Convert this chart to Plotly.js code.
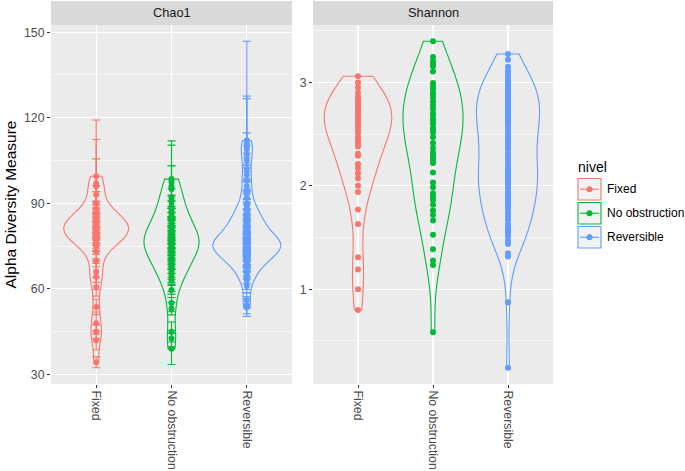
<!DOCTYPE html>
<html><head><meta charset="utf-8">
<script src="https://cdn.plot.ly/plotly-3.0.1.min.js"></script>
<style>html,body{margin:0;padding:0;background:#fff}#chart{width:685px;height:471px}</style>
</head><body><div id="chart"></div>
<script>
const categories = ['Fixed', 'No obstruction', 'Reversible'];
const facets = ['Chao1', 'Shannon'];
const legendTitle = 'nivel';
const yTitle = 'Alpha Diversity Measure';
const colors = ['#F8766D', '#00BA38', '#619CFF'];

const chao1Fixed = [99.5, 97, 96, 93, 90, 88, 87, 86, 85, 84.5, 84, 83.5, 83, 82.5, 82, 81.5, 81, 80.5, 80, 79.5, 79, 78.5, 78, 77.5, 77, 76, 75, 73, 70, 66, 64.3, 60.7, 53.7, 48, 45, 42, 34.3];
const chao1FixedSE = [19.7, 15.4, 9.6, 3.2, 4.1, 2.5, 3.8, 2.2, 4.5, 3.1, 2.7, 5.2, 3.4, 2.1, 4.8, 3.6, 2.9, 3.3, 2.4, 4.2, 3.0, 2.6, 3.9, 2.3, 3.5, 2.8, 4.4, 3.1, 2.2, 3.7, 4.6, 3.2, 2.7, 3.9, 2.4, 3.3, 1.9];
const chao1NoObs = [98.5, 97.5, 96, 95, 92, 90.5, 89, 88, 87, 86, 85, 84, 83, 82, 81, 80, 79.5, 79, 78.5, 78, 77.5, 77, 76.5, 76, 75.5, 75, 74.5, 74, 73.5, 73, 72, 71, 70, 69, 68, 67, 66, 65, 64, 63, 59.6, 55.1, 53.1, 44.9, 42.6, 39.0];
const chao1NoObsSE = [13.4, 12.9, 7.2, 8.2, 3.1, 2.4, 3.6, 2.8, 4.1, 2.2, 3.3, 2.7, 3.9, 2.5, 3.0, 4.4, 2.6, 3.2, 2.1, 3.7, 2.9, 3.4, 2.3, 4.0, 2.6, 3.1, 2.8, 3.5, 2.4, 3.8, 2.2, 3.3, 2.9, 3.6, 2.5, 3.0, 2.7, 3.4, 2.8, 3.9, 2.6, 3.1, 2.2, 3.5, 2.9, 5.5];
const chao1Rev = [112, 111, 110, 109, 107, 105, 102, 100, 98, 96, 94, 92, 90, 89, 88,
  87, 86.5, 86, 85, 84.5, 84, 83.5, 83, 82.5, 82,
  81.5, 81, 80.5, 80, 79.5, 79, 78.5, 78, 77.8, 77.5,
  77.2, 77, 76.8, 76.6, 76.5, 76.2, 76, 75.8, 75.6, 75.5,
  75.2, 75, 74.8, 74.6, 74.5, 74.2, 74, 73.8, 73.5, 73.2,
  73, 72.7, 72.4, 72, 71.6, 71.2, 70.8, 70.4, 70, 69.5,
  69, 68.5, 68, 67, 66, 65, 64, 63.1, 61, 56, 54.3, 53.5];
const chao1RevSE = [34.8, 16.6, 16.7, 5.7, 3.2, 2.6, 3.9, 2.4, 3.1, 2.8, 3.5, 2.2, 4.0, 2.7, 3.3, 2.5, 3.8, 2.1, 3.0, 2.9, 3.6, 2.3, 3.2, 2.8, 4.1, 2.4, 3.4, 2.6, 3.7, 2.2, 3.1, 2.9, 2.5, 3.3, 2.7, 3.9, 2.3, 3.0, 2.6, 3.5, 2.1, 3.2, 2.8, 2.4, 3.6, 2.7, 3.1, 2.2, 3.4, 2.9, 2.5, 3.8, 2.3, 3.0, 2.6, 3.3, 2.8, 2.4, 3.5, 2.1, 3.2, 2.7, 2.9, 3.6, 2.3, 3.1, 2.6, 3.4, 2.8, 2.5, 3.0, 2.2, 3.3, 2.4, 2.7, 3.0, 3.1];

const shannonFixed = [3.06, 3.00, 2.95, 2.90, 2.86, 2.84, 2.81, 2.79, 2.77, 2.75, 2.73, 2.71, 2.68, 2.65, 2.62, 2.60, 2.57, 2.54, 2.51, 2.47, 2.44, 2.41, 2.38, 2.31, 2.29, 2.21, 2.17, 2.12, 2.07, 2.00, 1.94, 1.77, 1.63, 1.31, 1.19, 1.00, 0.80];
const shannonNoObs = [3.397, 3.246, 3.203, 3.18, 3.155, 3.106, 2.994, 2.96, 2.936, 2.897, 2.88, 2.855, 2.816, 2.78, 2.742, 2.70, 2.687, 2.646, 2.63, 2.600, 2.559, 2.54, 2.516, 2.47, 2.413, 2.365, 2.322, 2.30, 2.278, 2.25, 2.220, 2.129, 2.032, 1.987, 1.929, 1.90, 1.864, 1.816, 1.761, 1.719, 1.664, 1.526, 1.387, 1.277, 1.235, 0.584];
const shannonRev = [3.275, 3.22, 3.15, 3.116, 3.08, 3.052, 3.02, 3.00, 2.98, 2.96, 2.94, 2.92, 2.90, 2.88, 2.86, 2.84, 2.82, 2.80, 2.78, 2.76, 2.74, 2.72, 2.70, 2.68, 2.66, 2.64, 2.62, 2.60, 2.58, 2.55, 2.52, 2.50, 2.47, 2.445, 2.42, 2.397, 2.37, 2.349, 2.31, 2.284, 2.252, 2.22, 2.19, 2.17, 2.15, 2.13, 2.11, 2.09, 2.07, 2.05, 2.03, 2.01, 2.00, 1.98, 1.945, 1.92, 1.896, 1.87, 1.848, 1.82, 1.80, 1.77, 1.736, 1.70, 1.671, 1.63, 1.60, 1.574, 1.558, 1.54, 1.509, 1.47, 1.438, 1.348, 1.316, 0.874, 0.242];

const chao1 = [chao1Fixed, chao1NoObs, chao1Rev];
const chao1SE = [chao1FixedSE, chao1NoObsSE, chao1RevSE];
const shannon = [shannonFixed, shannonNoObs, shannonRev];

const W = 685, H = 471;
const px = x => x / W, py = y => 1 - y / H;
const FONT = 'Liberation Sans, Arial, Helvetica, sans-serif';

function quantile(s, p) { const h = (s.length - 1) * p, lo = Math.floor(h), hi = Math.ceil(h); return s[lo] + (s[hi] - s[lo]) * (h - lo); }
function bwNrd0(v) {
  const n = v.length, m = v.reduce((a, b) => a + b, 0) / n;
  const sd = Math.sqrt(v.reduce((a, b) => a + (b - m) * (b - m), 0) / (n - 1));
  const s = v.slice().sort((a, b) => a - b);
  const iqr = quantile(s, 0.75) - quantile(s, 0.25);
  return 0.9 * Math.min(sd, iqr / 1.34) * Math.pow(n, -0.2);
}
function expand(lo, hi) { const d = (hi - lo) * 0.05; return [lo - d, hi + d]; }

const chaoWidths = [0.86, 0.73, 0.9];
const shanWidths = [0.9, 0.8, 0.84];
const traces = [];
categories.forEach((cat, i) => {
  const vals = chao1[i];
  traces.push({type: 'violin', x: vals.map(() => cat), y: vals, xaxis: 'x', yaxis: 'y',
    line: {color: colors[i], width: 1.1}, fillcolor: 'rgba(0,0,0,0)', points: false, spanmode: 'hard',
    bandwidth: bwNrd0(vals), width: chaoWidths[i], scalemode: 'width', box: {visible: false}, meanline: {visible: false},
    showlegend: false, hoverinfo: 'skip'});
  traces.push({type: 'scatter', mode: 'markers', x: vals.map(() => cat), y: vals, xaxis: 'x', yaxis: 'y',
    marker: {color: colors[i], size: 6}, error_y: {type: 'data', array: chao1SE[i], visible: true, color: colors[i], thickness: 1.1, width: 4},
    showlegend: false, hoverinfo: 'skip'});
  const sv = shannon[i];
  traces.push({type: 'violin', x: sv.map(() => cat), y: sv, xaxis: 'x2', yaxis: 'y2',
    line: {color: colors[i], width: 1.1}, fillcolor: 'rgba(0,0,0,0)', points: false, spanmode: 'hard',
    bandwidth: bwNrd0(sv), width: shanWidths[i], scalemode: 'width', box: {visible: false}, meanline: {visible: false},
    showlegend: false, hoverinfo: 'skip'});
  traces.push({type: 'scatter', mode: 'markers', x: sv.map(() => cat), y: sv, xaxis: 'x2', yaxis: 'y2',
    marker: {color: colors[i], size: 6}, showlegend: false, hoverinfo: 'skip'});
});

let cLo = Infinity, cHi = -Infinity;
chao1.forEach((v, i) => v.forEach((y, j) => { cLo = Math.min(cLo, y - chao1SE[i][j]); cHi = Math.max(cHi, y + chao1SE[i][j]); }));
const allS = shannon.flat();
const chaoRange = expand(cLo, cHi);
const shanRange = expand(Math.min(...allS), Math.max(...allS));

const tickfont = {family: FONT, size: 12.3, color: '#4D4D4D'};
const xCommon = {type: 'category', categoryorder: 'array', categoryarray: categories, range: [-0.6, 2.6],
  tickangle: 90, ticks: 'outside', ticklen: 3, tickwidth: 1, tickcolor: '#333333', showgrid: true, gridcolor: '#FFFFFF', gridwidth: 1.1,
  zeroline: false, showline: false, tickfont: tickfont, automargin: false, fixedrange: true};
const yCommon = {ticks: 'outside', ticklen: 3, tickwidth: 1, tickcolor: '#333333', showgrid: true, gridcolor: '#FFFFFF', gridwidth: 1.1,
  zeroline: false, showline: false, tickfont: tickfont, automargin: false, fixedrange: true, tickmode: 'linear',
  domain: [py(384), py(25)]};

const panels = [[51, 292], [313, 553]];
const shapes = [], annotations = [];
facets.forEach((f, k) => {
  shapes.push({type: 'rect', xref: 'paper', yref: 'paper', x0: px(panels[k][0]), x1: px(panels[k][1]), y0: py(25), y1: py(1), fillcolor: '#D9D9D9', line: {width: 0}, layer: 'below'});
  annotations.push({xref: 'paper', yref: 'paper', x: px((panels[k][0] + panels[k][1]) / 2), y: py(13), text: f, showarrow: false,
    xanchor: 'center', yanchor: 'middle', font: {family: FONT, size: 12.8, color: '#1A1A1A'}});
});
annotations.push({xref: 'paper', yref: 'paper', x: px(10), y: py(204.5), text: yTitle, showarrow: false, textangle: -90,
  xanchor: 'center', yanchor: 'middle', font: {family: FONT, size: 15.5, color: '#000000'}});
annotations.push({xref: 'paper', yref: 'paper', x: px(576), y: py(167), text: legendTitle, showarrow: false,
  xanchor: 'left', yanchor: 'middle', font: {family: FONT, size: 14, color: '#000000'}});
categories.forEach((cat, i) => {
  const top = 178.5 + i * 24, bot = top + 21.5, cy = (top + bot) / 2;
  shapes.push({type: 'rect', xref: 'paper', yref: 'paper', x0: px(578), x1: px(601), y0: py(bot), y1: py(top), fillcolor: '#F2F2F2', line: {color: colors[i], width: 1.1}});
  shapes.push({type: 'line', xref: 'paper', yref: 'paper', x0: px(580), x1: px(599), y0: py(cy), y1: py(cy), line: {color: colors[i], width: 1.1}});
  shapes.push({type: 'circle', xref: 'paper', yref: 'paper', x0: px(586.5), x1: px(592.5), y0: py(cy + 3), y1: py(cy - 3), fillcolor: colors[i], line: {width: 0}});
  annotations.push({xref: 'paper', yref: 'paper', x: px(605), y: py(cy), text: cat, showarrow: false,
    xanchor: 'left', yanchor: 'middle', font: {family: FONT, size: 12, color: '#000000'}});
});

const layout = {
  width: W, height: H, margin: {l: 0, r: 0, t: 0, b: 0}, paper_bgcolor: '#FFFFFF', plot_bgcolor: '#EBEBEB',
  showlegend: false, violinmode: 'overlay', font: {family: FONT},
  xaxis: Object.assign({}, xCommon, {domain: [px(51), px(292)], anchor: 'y'}),
  xaxis2: Object.assign({}, xCommon, {domain: [px(313), px(553)], anchor: 'y2'}),
  yaxis: Object.assign({}, yCommon, {anchor: 'x', range: chaoRange, tick0: 0, dtick: 30,
    minor: {tick0: 0, dtick: 15, showgrid: true, gridcolor: '#FFFFFF', gridwidth: 0.55, ticks: ''}}),
  yaxis2: Object.assign({}, yCommon, {anchor: 'x2', range: shanRange, tick0: 0, dtick: 1,
    minor: {tick0: 0, dtick: 0.5, showgrid: true, gridcolor: '#FFFFFF', gridwidth: 0.55, ticks: ''}}),
  shapes: shapes, annotations: annotations
};
Plotly.newPlot('chart', traces, layout, {staticPlot: true, displayModeBar: false});
</script></body></html>
